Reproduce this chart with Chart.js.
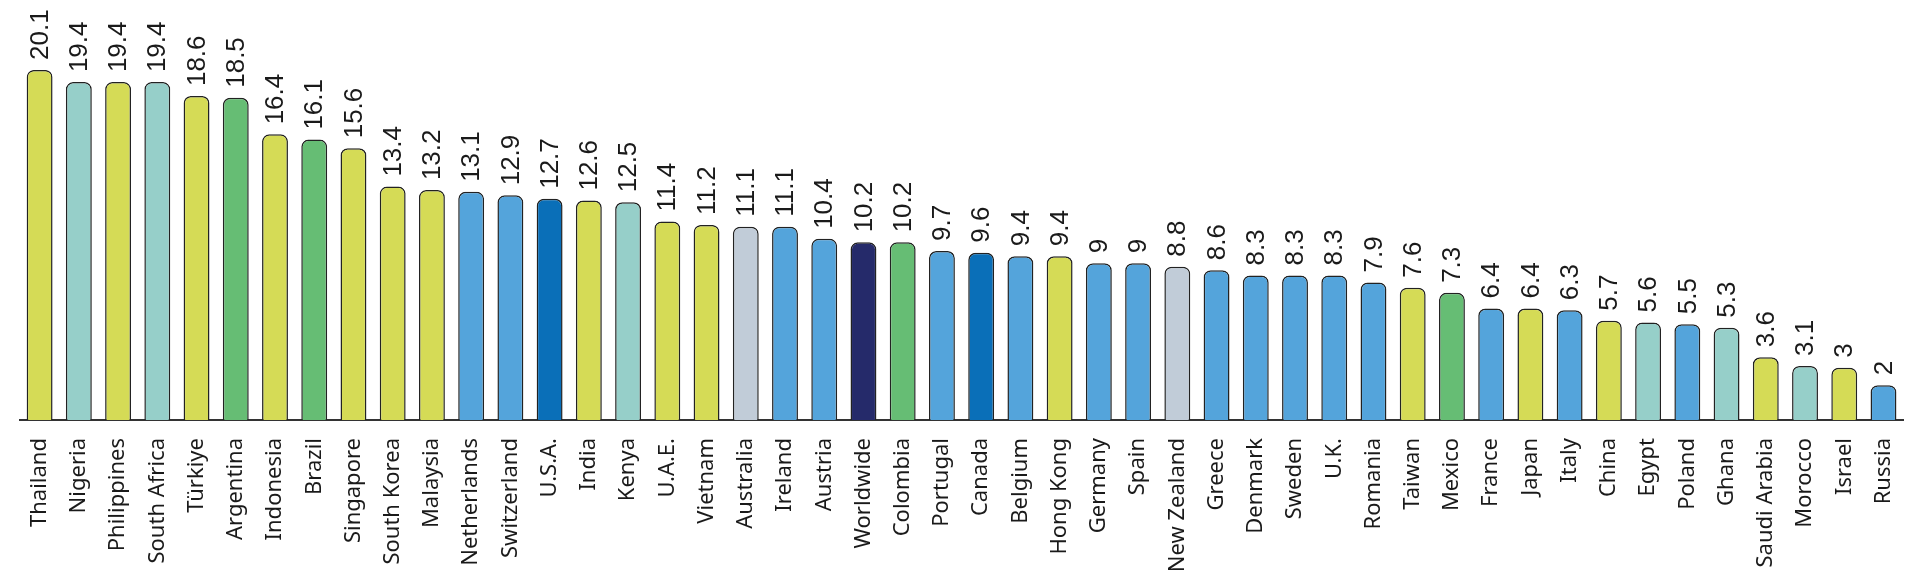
<!DOCTYPE html>
<html>
<head>
<meta charset="utf-8">
<script src="https://cdn.jsdelivr.net/npm/chart.js@4.4.0/dist/chart.umd.min.js"></script>
<style>
  html, body { margin: 0; padding: 0; background: #fff; }
  #wrap { width: 1920px; height: 582px; }
</style>
</head>
<body>
<div id="wrap"><canvas id="chart"></canvas></div>
<script>
const countries = ['Thailand', 'Nigeria', 'Philippines', 'South Africa', 'Türkiye', 'Argentina', 'Indonesia', 'Brazil',
    'Singapore', 'South Korea', 'Malaysia', 'Netherlands', 'Switzerland', 'U.S.A.', 'India', 'Kenya', 'U.A.E.',
    'Vietnam', 'Australia', 'Ireland', 'Austria', 'Worldwide', 'Colombia', 'Portugal', 'Canada', 'Belgium',
    'Hong Kong', 'Germany', 'Spain', 'New Zealand', 'Greece', 'Denmark', 'Sweden', 'U.K.', 'Romania', 'Taiwan',
    'Mexico', 'France', 'Japan', 'Italy', 'China', 'Egypt', 'Poland', 'Ghana', 'Saudi Arabia', 'Morocco',
    'Israel', 'Russia'];

const values = [20.1, 19.4, 19.4, 19.4, 18.6, 18.5, 16.4, 16.1, 15.6, 13.4, 13.2, 13.1, 12.9, 12.7, 12.6, 12.5,
    11.4, 11.2, 11.1, 11.1, 10.4, 10.2, 10.2, 9.7, 9.6, 9.4, 9.4, 9, 9, 8.8, 8.6, 8.3, 8.3, 8.3, 7.9, 7.6, 7.3,
    6.4, 6.4, 6.3, 5.7, 5.6, 5.5, 5.3, 3.6, 3.1, 3, 2];

// region group of each bar
const groups = ['Y', 'T', 'Y', 'T', 'Y', 'G', 'Y', 'G', 'Y', 'Y', 'Y', 'B', 'B', 'D', 'Y', 'T', 'Y', 'Y', 'S', 'B',
    'B', 'N', 'G', 'B', 'D', 'B', 'Y', 'B', 'B', 'S', 'B', 'B', 'B', 'B', 'B', 'Y', 'G', 'B', 'Y', 'B', 'Y', 'T',
    'B', 'T', 'Y', 'T', 'Y', 'B'];

const groupColors = {
    Y: '#d5db56',
    T: '#96cfc9',
    G: '#66bd74',
    B: '#54a4db',
    D: '#0a6fb8',
    N: '#252a6a',
    S: '#c1ccd8'
};

const fontFamily = '"Noto Sans", "Open Sans", sans-serif';
const valueFont = '"Liberation Sans", Arial, sans-serif';

// value labels drawn rotated above each bar
const valueLabels = {
    id: 'valueLabels',
    afterDatasetsDraw(chart) {
        const ctx = chart.ctx;
        const meta = chart.getDatasetMeta(0);
        ctx.save();
        ctx.font = '26px ' + valueFont;
        ctx.fillStyle = '#1a1a1a';
        ctx.textAlign = 'left';
        ctx.textBaseline = 'middle';
        meta.data.forEach((bar, i) => {
            ctx.save();
            ctx.translate(bar.x + 1, bar.y - 10);
            ctx.rotate(-Math.PI / 2);
            ctx.fillText(String(values[i]), 0, 0);
            ctx.restore();
        });
        ctx.restore();
    }
};

new Chart(document.getElementById('chart').getContext('2d'), {
    type: 'bar',
    data: {
        labels: countries,
        datasets: [{
            data: values,
            backgroundColor: groups.map(g => groupColors[g]),
            borderColor: '#222',
            borderWidth: 1.5,
            borderRadius: { topLeft: 7, topRight: 7, bottomLeft: 0, bottomRight: 0 },
            borderSkipped: 'bottom',
            barPercentage: 0.66,
            categoryPercentage: 1
        }]
    },
    options: {
        responsive: true,
        maintainAspectRatio: false,
        animation: false,
        layout: { padding: { left: 20, right: 11, top: 2, bottom: 0 } },
        plugins: {
            legend: { display: false },
            tooltip: { enabled: false }
        },
        scales: {
            x: {
                grid: { display: false },
                border: { display: true, color: '#333', width: 2 },
                ticks: {
                    minRotation: 90,
                    maxRotation: 90,
                    autoSkip: false,
                    padding: 10,
                    color: '#1a1a1a',
                    font: { family: fontFamily, size: 22 }
                },
                afterFit(scale) { scale.height = 162; }
            },
            y: {
                display: false,
                min: 0,
                max: 24
            }
        }
    },
    plugins: [valueLabels]
});
</script>
</body>
</html>
